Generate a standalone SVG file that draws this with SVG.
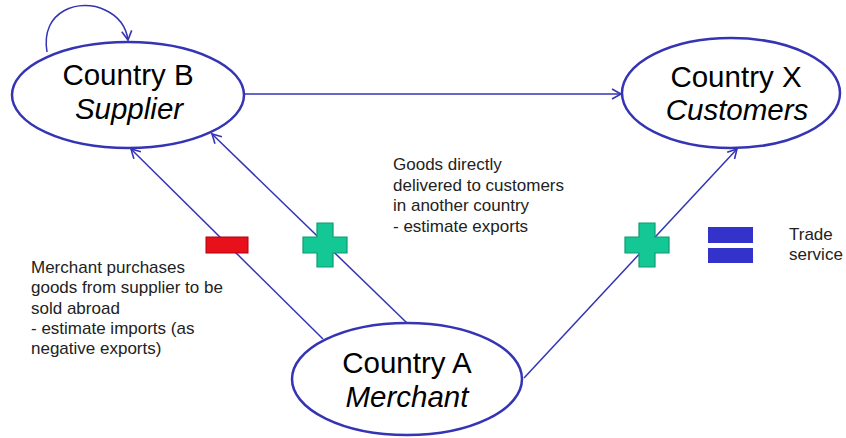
<svg xmlns="http://www.w3.org/2000/svg" width="846" height="438" viewBox="0 0 846 438">
<defs>
<marker id="arr" markerWidth="12" markerHeight="12" refX="10" refY="6" orient="auto" markerUnits="userSpaceOnUse">
<path d="M1,1 L10,6 L1,11" fill="none" stroke="#3434b4" stroke-width="1.6"/>
</marker>
<style>
.node{fill:#fff;stroke:#3434b4;stroke-width:2.5}
.conn{fill:none;stroke:#3434b4;stroke-width:1.5;marker-end:url(#arr)}
.t{font-family:"Liberation Sans",Arial,sans-serif;fill:#000;text-anchor:middle;font-size:29.5px}
.i{font-style:italic}
.lbl{font-family:"Liberation Sans",Arial,sans-serif;fill:#222;font-size:17px}
.plus{fill:#14c896;stroke:#0c9c70;stroke-width:1.2}
.minus{fill:#e8101a;stroke:#b00010;stroke-width:1}
.eq{fill:#3333cc}
</style>
</defs>
<rect width="846" height="438" fill="#fff"/>
<g id="connectors">
<path class="conn" d="M47,52 C40,10 80,-2 105,10 C118,16 126,26 128,40"/>
<line class="conn" x1="245" y1="94" x2="621" y2="94"/>
<line class="conn" x1="323" y1="339" x2="131" y2="149"/>
<line class="conn" x1="407" y1="323" x2="212" y2="134"/>
<line class="conn" x1="524" y1="378" x2="737" y2="149"/>
</g>
<g id="nodeB">
<ellipse class="node" cx="128" cy="95" rx="116" ry="53"/>
<text class="t" x="128" y="85">Country B</text>
<text class="t i" x="129" y="119">Supplier</text>
</g>
<g id="nodeX">
<ellipse class="node" cx="731" cy="93" rx="109" ry="55"/>
<text class="t" x="736" y="87">Country X</text>
<text class="t i" x="737" y="120">Customers</text>
</g>
<g id="nodeA">
<ellipse class="node" cx="407" cy="379" rx="115" ry="56"/>
<text class="t" x="407" y="373">Country A</text>
<text class="t i" x="407" y="407">Merchant</text>
</g>
<g id="minus">
<rect class="minus" x="206" y="237" width="42" height="16"/>
</g>
<g id="plus1">
<path class="plus" d="M317,223 H333 V237 H347 V253 H333 V267 H317 V253 H303 V237 H317 Z"/>
</g>
<g id="plus2">
<path class="plus" d="M639,223 H655 V237 H669 V253 H655 V267 H639 V253 H625 V237 H639 Z"/>
</g>
<g id="equals">
<rect class="eq" x="708" y="227" width="45" height="16"/>
<rect class="eq" x="708" y="248" width="45" height="15"/>
</g>
<g id="label-goods">
<text class="lbl" x="393" y="170">Goods directly</text>
<text class="lbl" x="393" y="190.5">delivered to customers</text>
<text class="lbl" x="393" y="211">in another country</text>
<text class="lbl" x="393" y="231.5">- estimate exports</text>
</g>
<g id="label-merchant">
<text class="lbl" x="31" y="273">Merchant purchases</text>
<text class="lbl" x="31" y="293.3">goods from supplier to be</text>
<text class="lbl" x="31" y="313.6">sold abroad</text>
<text class="lbl" x="31" y="334">- estimate imports (as</text>
<text class="lbl" x="31" y="354.3">negative exports)</text>
</g>
<g id="label-trade">
<text class="lbl" x="789" y="240">Trade</text>
<text class="lbl" x="789" y="260">service</text>
</g>
</svg>
